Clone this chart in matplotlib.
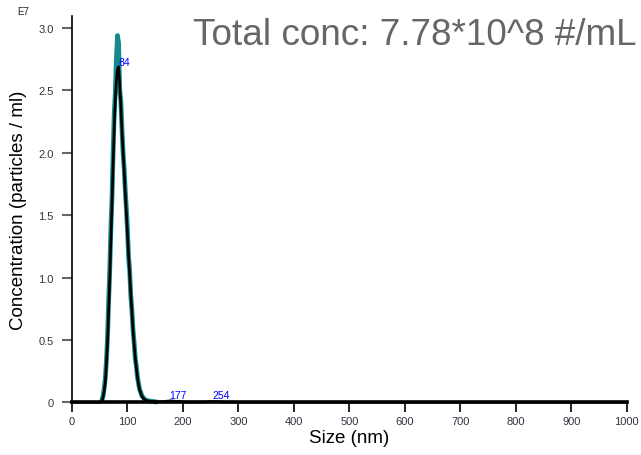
import numpy as np
import matplotlib
matplotlib.use("Agg")
import matplotlib.pyplot as plt

plt.rcParams["font.family"] = ["Liberation Sans", "DejaVu Sans"]

# size grid (nm), raw measurement (teal)
sizes_raw = [54, 56, 58, 60, 62, 64, 66, 68, 70, 72, 74, 76, 78,
             80, 82, 84, 86, 88, 90, 92, 94, 96, 98, 100, 102, 104, 106, 108,
             110, 112, 114, 116, 118, 120, 122, 124, 126, 128, 130, 134, 140,
             150]
conc_raw = [0.02, 0.05, 0.11, 0.19, 0.33, 0.52, 0.80, 1.05,
            1.38, 1.62, 1.98, 2.30, 2.48, 2.75, 2.94, 2.88, 2.50, 2.42,
            2.20, 2.00, 1.88, 1.70, 1.55, 1.38, 1.16, 1.05, 0.85, 0.74,
            0.58, 0.48, 0.35, 0.29, 0.20, 0.15, 0.10, 0.08, 0.05, 0.04,
            0.03, 0.015, 0.01, 0.004]

# size grid (nm), fitted curve (black), x1e7 particles/ml
sizes = [0, 48, 50, 52, 54, 56, 58, 60, 62, 64, 66, 68, 70, 72, 74, 76, 78,
         80, 82, 84, 86, 88, 90, 92, 94, 96, 98, 100, 102, 104, 106, 108,
         110, 112, 114, 116, 118, 120, 122, 124, 126, 128, 130, 134, 140,
         150, 165, 177, 190, 210, 235, 254, 275, 300, 1000]
conc_fit = [0, 0, 0, 0, 0.01, 0.04, 0.09, 0.16, 0.30, 0.48, 0.72, 0.98,
            1.28, 1.58, 1.90, 2.18, 2.42, 2.58, 2.67, 2.69, 2.55, 2.38,
            2.18, 2.02, 1.85, 1.68, 1.52, 1.35, 1.18, 1.02, 0.87, 0.72,
            0.58, 0.46, 0.36, 0.27, 0.20, 0.14, 0.10, 0.07, 0.05, 0.035,
            0.025, 0.015, 0.008, 0.003, 0.006, 0.012, 0.007, 0.001, 0.002,
            0.006, 0.002, 0, 0]

peak_sizes = [84, 177, 254]
peak_conc = [2.69, 0.02, 0.02]

x_ticks = np.arange(0, 1001, 100)
y_ticks = [0, 0.5, 1.0, 1.5, 2.0, 2.5, 3.0]
y_labels = ["0", "0.5", "1.0", "1.5", "2.0", "2.5", "3.0"]

fig = plt.figure(figsize=(6.41, 4.56), dpi=100)
ax = fig.add_axes([0.1123, 0.1156, 0.8657, 0.847])

ax.plot(sizes_raw, conc_raw, color="#148a8a", lw=3.4, clip_on=False)
ax.plot(sizes, conc_fit, color="black", lw=1.9, clip_on=False)

for s, c in zip(peak_sizes, peak_conc):
    ax.text(s - 1, c, str(s), color="blue", fontsize=7.5, ha="left",
            va="bottom")

ax.set_xlim(0, 1000)
ax.set_ylim(0, 3.096)
ax.set_xticks(x_ticks)
ax.set_yticks(y_ticks)
ax.set_yticklabels(y_labels)
ax.tick_params(axis="x", length=7, width=1.2, color="black", labelsize=8,
               labelcolor="#333340", pad=3)
ax.tick_params(axis="y", length=7, width=1.5, color="#666666", labelsize=8,
               labelcolor="#333340", pad=6)
for side in ["top", "right"]:
    ax.spines[side].set_visible(False)
ax.spines["left"].set_linewidth(1.2)
ax.spines["bottom"].set_linewidth(2.6)

ax.set_xlabel("Size (nm)", fontsize=13.5, labelpad=2)
ax.set_ylabel("Concentration (particles / ml)", fontsize=13.5, labelpad=8)

fig.text(17 / 641, 1 - 12 / 456, "E7", fontsize=7, color="#222222",
         ha="left", va="center")
fig.text(193 / 641, 1 - 45 / 456, "Total conc: 7.78*10^8 #/mL",
         fontsize=26.6, color="#666666", ha="left", va="baseline")

fig.savefig("out.png", dpi=100)
